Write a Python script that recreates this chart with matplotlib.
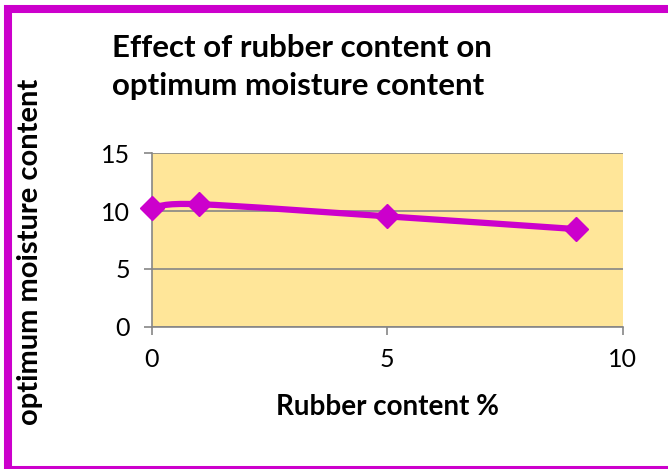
import numpy as np
import matplotlib
matplotlib.use('Agg')
import matplotlib.pyplot as plt
from matplotlib.path import Path
from matplotlib.patches import PathPatch, Rectangle

# data
rubber = [0, 1, 5, 9]
moisture = [10.3, 10.6, 9.55, 8.45]
yticks = [0, 5, 10, 15]
xticks = [0, 5, 10]

purple = '#CC00CC'
plt.rcParams['font.family'] = ['Lato', 'DejaVu Sans']

fig = plt.figure(figsize=(6.68, 4.69), dpi=100)
ax = fig.add_axes([0.2275, 0.3034, 0.7045, 0.3696])
ax.set_facecolor('#FFE699')

# smoothed line (Catmull-Rom as cubic bezier), like Excel's smooth line
pts = np.column_stack([rubber, moisture]).astype(float)
verts = [tuple(pts[0])]
codes = [Path.MOVETO]
for i in range(len(pts) - 1):
    p0 = pts[i - 1] if i > 0 else pts[i]
    p1, p2 = pts[i], pts[i + 1]
    p3 = pts[i + 2] if i + 2 < len(pts) else pts[i + 1]
    c1 = p1 + (p2 - p0) / 6.0
    c2 = p2 - (p3 - p1) / 6.0
    verts += [tuple(c1), tuple(c2), tuple(p2)]
    codes += [Path.CURVE4] * 3
ax.add_patch(PathPatch(Path(verts, codes), fill=False, edgecolor=purple,
                       lw=4.5, capstyle='round', joinstyle='round', zorder=3))
ax.plot(rubber, moisture, ls='none', marker='D', ms=12.5, color=purple,
        zorder=4, clip_on=False)

ax.set_xlim(0, 10)
ax.set_ylim(0, 15)
ax.set_xticks(xticks)
ax.set_yticks(yticks)
ax.yaxis.grid(True, color='#868686', lw=1.2)
ax.set_axisbelow(True)
for s in ['top', 'right']:
    ax.spines[s].set_visible(False)
for s in ['left', 'bottom']:
    ax.spines[s].set_color('#868686')
    ax.spines[s].set_linewidth(1.2)
ax.tick_params(axis='both', colors='#868686', length=6, width=1.2,
               labelcolor='black', labelsize=18)
ax.tick_params(axis='x', pad=9)
ax.tick_params(axis='y', pad=10)

ax.set_xlabel('Rubber content %', fontsize=20, fontweight='bold', labelpad=17)
fig.text(0.045, 0.463, 'optimum moisture content', rotation=90, fontsize=21,
         fontweight='bold', ha='center', va='center')
fig.text(0.168, 0.857, 'Effect of rubber content on\noptimum moisture content',
         fontsize=22.5, fontweight='bold', ha='left', va='center', linespacing=1.45)

# magenta frame
fig.patches.append(Rectangle((7.5 / 668, -1 / 469), 668 / 668, 461 / 469,
                             transform=fig.transFigure, fill=False,
                             edgecolor=purple, lw=5.8))

fig.savefig('out.png', dpi=100)
